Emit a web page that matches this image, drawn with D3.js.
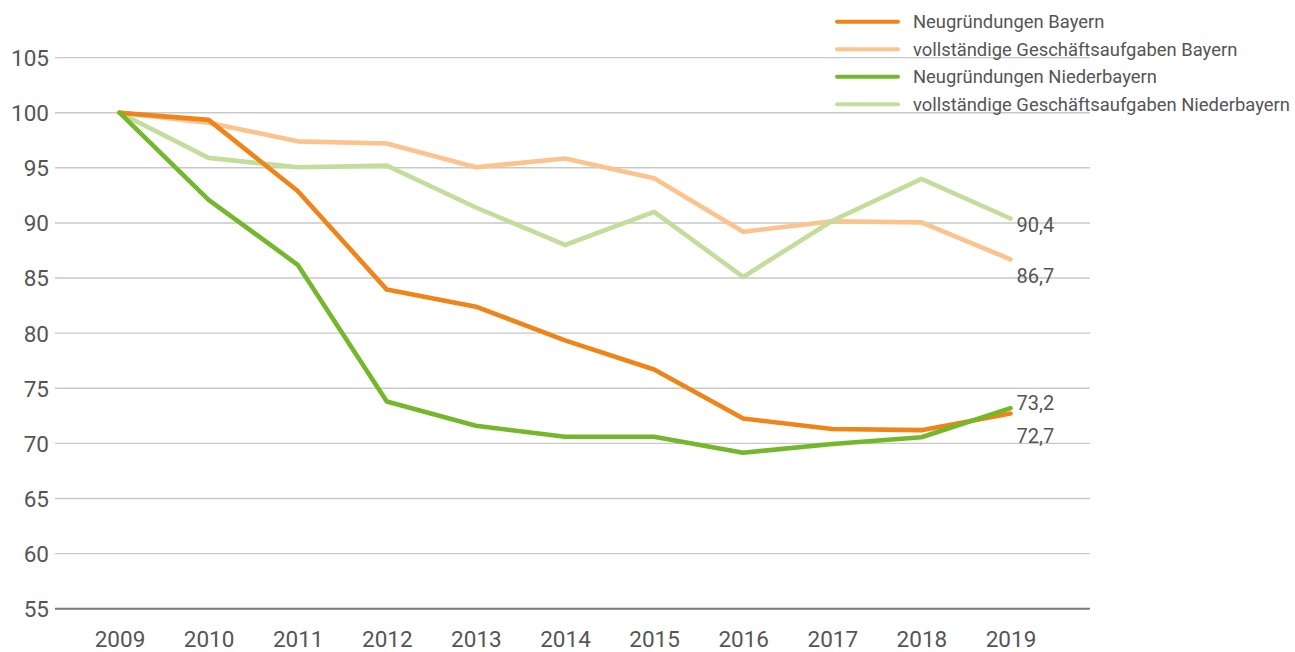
<!DOCTYPE html>
<html lang="de">
<head>
<meta charset="utf-8">
<title>Neugründungen und Geschäftsaufgaben (2009 = 100)</title>
<script src="https://cdn.jsdelivr.net/npm/d3@7/dist/d3.min.js"></script>
<style>
  html, body { margin: 0; padding: 0; background: #fff; }
  svg { display: block; font-family: Roboto, "Open Sans", sans-serif; }
</style>
</head>
<body>
<svg id="chart" width="1295" height="652"></svg>
<script>
// Index 2009 = 100
const years = ["2009","2010","2011","2012","2013","2014","2015","2016","2017","2018","2019"];
const yTicks = [55, 60, 65, 70, 75, 80, 85, 90, 95, 100, 105];

const seriesNames = [
  "Neugründungen Bayern",
  "vollständige Geschäftsaufgaben Bayern",
  "Neugründungen Niederbayern",
  "vollständige Geschäftsaufgaben Niederbayern"
];
const neugruendungenBayern       = [100, 99.35, 92.9, 83.95, 82.4, 79.35, 76.7, 72.25, 71.3, 71.2, 72.7];
const aufgabenBayern             = [100, 99.1, 97.4, 97.2, 95.05, 95.85, 94.05, 89.2, 90.15, 90.05, 86.7];
const neugruendungenNiederbayern = [100, 92.1, 86.2, 73.8, 71.6, 70.6, 70.6, 69.15, 69.95, 70.55, 73.2];
const aufgabenNiederbayern       = [100, 95.9, 95.05, 95.2, 91.4, 88.0, 91.0, 85.1, 90.2, 94.0, 90.4];
const endLabels = ["72,7", "86,7", "73,2", "90,4"];

const colors = ["#ef8419", "#fbc38d", "#74b72a", "#c4dd9c"];
const seriesValues = [neugruendungenBayern, aufgabenBayern, neugruendungenNiederbayern, aufgabenNiederbayern];
// baseline offsets of the end labels relative to each line's last point
const labelDy = [29.5, 24, 2, 13];

const svg = d3.select("#chart");

const x = d3.scalePoint().domain(years).range([119.5, 1010.5]);
const y = d3.scaleLinear().domain([55, 105]).range([608.7, 57.6]);
const plotLeft = 55, plotRight = 1090;

// horizontal gridlines
svg.append("g")
  .selectAll("line")
  .data(yTicks.filter(t => t !== 55))
  .join("line")
  .attr("x1", plotLeft).attr("x2", plotRight)
  .attr("y1", d => y(d)).attr("y2", d => y(d))
  .attr("stroke", "#c9c9c9")
  .attr("stroke-width", 1.4);

// baseline
svg.append("line")
  .attr("x1", plotLeft).attr("x2", plotRight)
  .attr("y1", y(55)).attr("y2", y(55))
  .attr("stroke", "#7a7a7a")
  .attr("stroke-width", 2);

// y axis labels
const yAxis = d3.axisLeft(y).tickValues(yTicks).tickSize(0).tickPadding(0);
const gy = svg.append("g").attr("transform", "translate(49,0)").call(yAxis);
gy.select(".domain").remove();
gy.selectAll("text")
  .attr("font-size", 22.5)
  .attr("fill", "#555")
  .attr("font-family", "Roboto, sans-serif")
  .attr("text-anchor", "end")
  .attr("dy", "0.35em");

// x axis labels
const xAxis = d3.axisBottom(x).tickSize(0).tickPadding(0);
const gx = svg.append("g").call(xAxis);
gx.select(".domain").remove();
gx.selectAll("text")
  .attr("font-size", 22.5)
  .attr("fill", "#555")
  .attr("font-family", "Roboto, sans-serif")
  .attr("y", 646.5)
  .attr("dy", 0);

// lines: light series underneath, strong series on top
const line = d3.line()
  .x((d, i) => x(years[i]))
  .y(d => y(d));

const drawOrder = [1, 3, 0, 2];
svg.append("g")
  .selectAll("path")
  .data(drawOrder)
  .join("path")
  .attr("d", k => line(seriesValues[k]))
  .attr("fill", "none")
  .attr("stroke", k => colors[k])
  .attr("stroke-width", 4.6)
  .attr("stroke-linejoin", "round")
  .attr("stroke-linecap", "round");

// end-of-line value labels
svg.append("g")
  .selectAll("text")
  .data(seriesValues.map((v, k) => k))
  .join("text")
  .attr("x", x(years[years.length - 1]) + 6)
  .attr("y", k => y(seriesValues[k][seriesValues[k].length - 1]) + labelDy[k])
  .attr("font-size", 20)
  .attr("fill", "#555")
  .text(k => endLabels[k]);

// legend
const legend = svg.append("g");
const legendRows = [21.7, 49.3, 76.7, 104.3];
seriesNames.forEach((name, k) => {
  legend.append("line")
    .attr("x1", 837).attr("x2", 898)
    .attr("y1", legendRows[k]).attr("y2", legendRows[k])
    .attr("stroke", colors[k])
    .attr("stroke-width", 4)
    .attr("stroke-linecap", "round");
  legend.append("text")
    .attr("x", 913)
    .attr("y", legendRows[k])
    .attr("dy", "0.35em")
    .attr("font-size", 18.4)
    .attr("fill", "#555")
    .text(name);
});
</script>
</body>
</html>
